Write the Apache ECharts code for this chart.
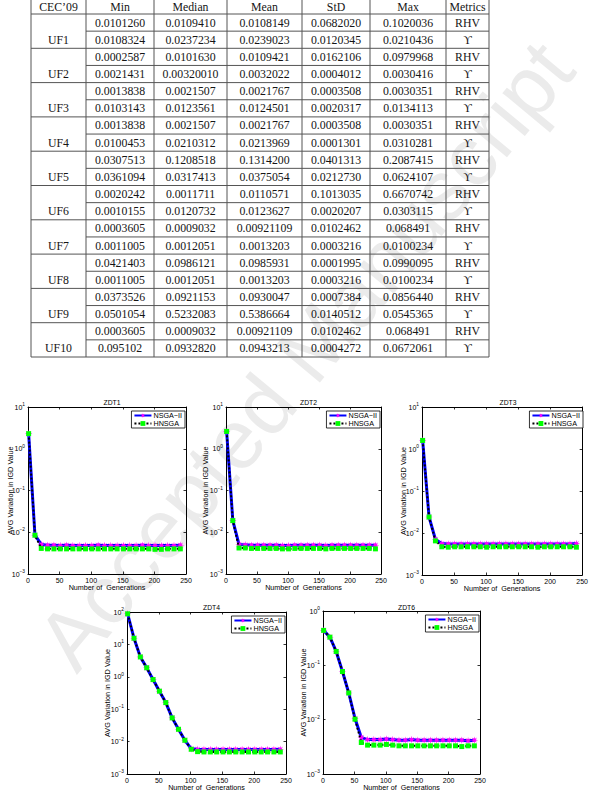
<!DOCTYPE html>
<html><head><meta charset="utf-8">
<script src="https://cdn.jsdelivr.net/npm/echarts@6/dist/echarts.min.js"></script>
<style>html,body{margin:0;padding:0;background:#fff;}#c{width:591px;height:792px;}</style>
</head><body><div id="c"></div>
<script>
// ---------- table data ----------
const colHeads = ['CEC\u201909', 'Min', 'Median', 'Mean', 'StD', 'Max', 'Metrics'];
const problems = ['UF1', 'UF2', 'UF3', 'UF4', 'UF5', 'UF6', 'UF7', 'UF8', 'UF9', 'UF10'];
const minCol = ['0.0101260','0.0108324','0.0002587','0.0021431','0.0013838','0.0103143','0.0013838','0.0100453','0.0307513','0.0361094','0.0020242','0.0010155','0.0003605','0.0011005','0.0421403','0.0011005','0.0373526','0.0501054','0.0003605','0.095102'];
const medianCol = ['0.0109410','0.0237234','0.0101630','0.00320010','0.0021507','0.0123561','0.0021507','0.0210312','0.1208518','0.0317413','0.0011711','0.0120732','0.0009032','0.0012051','0.0986121','0.0012051','0.0921153','0.5232083','0.0009032','0.0932820'];
const meanCol = ['0.0108149','0.0239023','0.0109421','0.0032022','0.0021767','0.0124501','0.0021767','0.0213969','0.1314200','0.0375054','0.0110571','0.0123627','0.00921109','0.0013203','0.0985931','0.0013203','0.0930047','0.5386664','0.00921109','0.0943213'];
const stdCol = ['0.0682020','0.0120345','0.0162106','0.0004012','0.0003508','0.0020317','0.0003508','0.0001301','0.0401313','0.0212730','0.1013035','0.0020207','0.0102462','0.0003216','0.0001995','0.0003216','0.0007384','0.0140512','0.0102462','0.0004272'];
const maxCol = ['0.1020036','0.0210436','0.0979968','0.0030416','0.0030351','0.0134113','0.0030351','0.0310281','0.2087415','0.0624107','0.6670742','0.0303115','0.068491','0.0100234','0.0990095','0.0100234','0.0856440','0.0545365','0.068491','0.0672061'];
const metricCol = ['RHV','\u03D2','RHV','\u03D2','RHV','\u03D2','RHV','\u03D2','RHV','\u03D2','RHV','\u03D2','RHV','\u03D2','RHV','\u03D2','RHV','\u03D2','RHV','\u03D2'];

// ---------- chart data ----------
const titles = ['ZDT1', 'ZDT2', 'ZDT3', 'ZDT4', 'ZDT6'];
const seriesNames = ['NSGA\u2212II', 'HNSGA'];
const xTicks = [0, 50, 100, 150, 200, 250];
const gens = [1,11,21,31,41,51,61,71,81,91,101,111,121,131,141,151,161,171,181,191,201,211,221,231,241];
const yLow = [0.001, 0.001, 0.001, 0.001, 0.001];
const yHigh = [10, 10, 10, 100, 1];

const nsga1 = [2.3,0.0085,0.0051,0.0049,0.0049,0.0048,0.0049,0.0048,0.0048,0.0048,0.0048,0.0049,0.0048,0.0048,0.0048,0.0048,0.0048,0.0048,0.0049,0.0048,0.0048,0.0048,0.0048,0.0048,0.0049];
const hnsga1 = [2.3,0.0085,0.0041,0.0040,0.0040,0.0040,0.0040,0.0040,0.0040,0.0040,0.0040,0.0040,0.0040,0.0040,0.0040,0.0040,0.0040,0.0040,0.0040,0.0040,0.0039,0.0039,0.0040,0.0040,0.0040];
const nsga2 = [2.6,0.019,0.0051,0.0050,0.0049,0.0049,0.0049,0.0049,0.0049,0.0048,0.0048,0.0049,0.0049,0.0049,0.0049,0.0049,0.0048,0.0049,0.0049,0.0049,0.0049,0.0049,0.0049,0.0049,0.0049];
const hnsga2 = [2.6,0.019,0.0042,0.0042,0.0041,0.0041,0.0041,0.0041,0.0041,0.0040,0.0040,0.0041,0.0041,0.0041,0.0041,0.0041,0.0040,0.0041,0.0041,0.0041,0.0041,0.0041,0.0041,0.0041,0.0040];
const nsga3 = [1.6,0.024,0.0070,0.0056,0.0055,0.0055,0.0055,0.0055,0.0055,0.0055,0.0055,0.0055,0.0055,0.0055,0.0055,0.0055,0.0055,0.0055,0.0055,0.0055,0.0055,0.0055,0.0055,0.0055,0.0056];
const hnsga3 = [1.6,0.024,0.0065,0.0047,0.0046,0.0047,0.0047,0.0047,0.0047,0.0047,0.0046,0.0047,0.0047,0.0047,0.0047,0.0047,0.0047,0.0047,0.0046,0.0047,0.0047,0.0047,0.0047,0.0047,0.0046];
const nsga4 = [88,15.5,4.1,1.9,0.82,0.36,0.16,0.054,0.024,0.011,0.0060,0.0058,0.0057,0.0057,0.0057,0.0057,0.0057,0.0057,0.0057,0.0057,0.0057,0.0057,0.0057,0.0057,0.0058];
const hnsga4 = [88,15.5,4.1,1.9,0.82,0.36,0.16,0.054,0.024,0.011,0.0058,0.0049,0.0048,0.0048,0.0048,0.0048,0.0048,0.0048,0.0048,0.0048,0.0048,0.0048,0.0048,0.0048,0.0048];
const nsga6 = [0.44,0.33,0.18,0.077,0.031,0.0105,0.0047,0.0043,0.0043,0.0043,0.0044,0.0043,0.0042,0.0042,0.0043,0.0042,0.0042,0.0042,0.0042,0.0042,0.0042,0.0042,0.0042,0.0041,0.0042];
const hnsga6 = [0.44,0.33,0.18,0.077,0.031,0.0102,0.0038,0.0034,0.0034,0.0034,0.0035,0.0034,0.0033,0.0033,0.0033,0.0033,0.0033,0.0033,0.0033,0.0033,0.0033,0.0033,0.0032,0.0033,0.0033];
const nsgaAll = [nsga1, nsga2, nsga3, nsga4, nsga6];
const hnsgaAll = [hnsga1, hnsga2, hnsga3, hnsga4, hnsga6];

// ---------- layout (positions / styles) ----------
const grids = [
  {left: 28, top: 407, width: 158, height: 167},
  {left: 226, top: 407, width: 155, height: 167},
  {left: 422, top: 407, width: 162, height: 168},
  {left: 127, top: 612, width: 159, height: 165},
  {left: 323, top: 611, width: 157, height: 166}
];
const yNameGap = [14, 17, 15, 16, 16];
const titleY = [394, 394, 394, 599, 599];
const FONT = '"Liberation Sans", Arial, Helvetica, sans-serif';
const SERIF = '"Liberation Serif", "Times New Roman", serif';
const starPath = 'path://M10,0L3.7,1.53L7.07,7.07L1.53,3.7L0,10L-1.53,3.7L-7.07,7.07L-3.7,1.53L-10,0L-3.7,-1.53L-7.07,-7.07L-1.53,-3.7L0,-10L1.53,-3.7L7.07,-7.07L3.7,-1.53Z';

// table geometry
const colEdges = [31, 86, 154, 227, 302, 370, 446, 489];
const headTop = -3, headBottom = 14, rowH = 17.15, headTextY = 6.8;

const els = [];
// watermark
els.push({type: 'text', x: 305, y: 355, rotation: 0.877, z: -10, silent: true,
  style: {text: 'Accepted Manuscript', font: '84px ' + FONT, fill: '#ebebeb',
    textAlign: 'center', textVerticalAlign: 'middle', align: 'center', verticalAlign: 'middle'}});

const lineStyle = {stroke: '#555', lineWidth: 1};
const tBottom = headBottom + 20 * rowH;
els.push({type: 'line', shape: {x1: colEdges[0], y1: headTop, x2: colEdges[7], y2: headTop}, style: lineStyle});
els.push({type: 'line', shape: {x1: colEdges[0], y1: headBottom, x2: colEdges[7], y2: headBottom}, style: lineStyle});
for (let r = 0; r < 20; r++) {
  const y = headBottom + (r + 1) * rowH;
  els.push({type: 'line', shape: {x1: (r % 2 === 1) ? colEdges[0] : colEdges[1], y1: y, x2: colEdges[7], y2: y}, style: lineStyle});
}
colEdges.forEach(function (x) {
  els.push({type: 'line', shape: {x1: x, y1: headTop, x2: x, y2: tBottom}, style: lineStyle});
});
function cellText(t, x, y) {
  return {type: 'text', x: x, y: y, style: {text: t, font: '11.8px ' + SERIF, fill: '#151515',
    textAlign: 'center', textVerticalAlign: 'middle', align: 'center', verticalAlign: 'middle'}};
}
const colMid = [];
for (let c = 0; c < 7; c++) colMid.push((colEdges[c] + colEdges[c + 1]) / 2);
colHeads.forEach(function (h, c) { els.push(cellText(h, colMid[c], headTextY)); });
problems.forEach(function (p, i) {
  els.push(cellText(p, colMid[0], headBottom + (2 * i + 1) * rowH + rowH / 2));
});
const dataCols = [minCol, medianCol, meanCol, stdCol, maxCol, metricCol];
dataCols.forEach(function (col, ci) {
  col.forEach(function (v, r) {
    els.push(cellText(v, colMid[ci + 1], headBottom + r * rowH + rowH / 2));
  });
});

// ---------- chart option ----------
function expLabel(v) {
  const e = Math.round(Math.log10(v));
  return '{b|10}{s|' + (e < 0 ? '\u2212' + (-e) : String(e)) + '}';
}
const option = {
  animation: false,
  backgroundColor: '#fff',
  textStyle: {fontFamily: FONT},
  graphic: {elements: els},
  title: [], grid: [], xAxis: [], yAxis: [], legend: [], series: []
};
grids.forEach(function (g, i) {
  option.grid.push({left: g.left, top: g.top, width: g.width, height: g.height, show: false, containLabel: false});
  option.title.push({text: titles[i], left: g.left + g.width / 2, top: titleY[i], textAlign: 'center',
    textStyle: {fontSize: 6.8, fontWeight: 'normal', color: '#000', fontFamily: FONT}});
  const axLine = {show: true, onZero: false, lineStyle: {color: '#000', width: 1}};
  const tick = {show: true, inside: true, length: 2.5, lineStyle: {color: '#000', width: 0.8}};
  option.xAxis.push({gridIndex: i, type: 'value', min: xTicks[0], max: xTicks[xTicks.length - 1], interval: xTicks[1] - xTicks[0],
    axisLine: axLine, axisTick: tick, splitLine: {show: false},
    axisLabel: {fontSize: 7, color: '#000', margin: 3, fontFamily: FONT},
    name: 'Number of  Generations', nameLocation: 'middle', nameGap: 10, nameMoveOverlap: false,
    nameTextStyle: {fontSize: 7.2, color: '#000', fontFamily: FONT}});
  option.xAxis.push({gridIndex: i, type: 'value', position: 'top', min: xTicks[0], max: xTicks[xTicks.length - 1], interval: xTicks[1] - xTicks[0],
    axisLine: axLine, axisTick: tick, splitLine: {show: false}, axisLabel: {show: false}});
  const decades = Math.round(Math.log10(yHigh[i] / yLow[i]));
  option.yAxis.push({gridIndex: i, type: 'log', logBase: 10, min: yLow[i], max: yHigh[i], splitNumber: decades,
    axisLine: axLine, axisTick: tick, splitLine: {show: false},
    axisLabel: {formatter: expLabel, margin: 3, color: '#000',
      rich: {b: {fontSize: 7, color: '#000', lineHeight: 10, fontFamily: FONT},
             s: {fontSize: 4.8, color: '#000', lineHeight: 5, verticalAlign: 'top', fontFamily: FONT}}},
    name: 'AVG Variation in IGD Value', nameLocation: 'middle', nameGap: yNameGap[i], nameMoveOverlap: false,
    nameTextStyle: {fontSize: 7.3, color: '#000', fontFamily: FONT}});
  option.yAxis.push({gridIndex: i, type: 'log', logBase: 10, min: yLow[i], max: yHigh[i], splitNumber: decades, position: 'right',
    axisLine: axLine, axisTick: tick, splitLine: {show: false}, axisLabel: {show: false}});
  option.legend.push({show: true, orient: 'vertical', right: 591 - (g.left + g.width) + 1, top: g.top + 4,
    data: seriesNames, itemWidth: 17, itemHeight: 6, itemGap: 1, padding: [1, 3, 1, 2],
    borderColor: '#000', borderWidth: 0.8, backgroundColor: '#fff', borderRadius: 0,
    textStyle: {fontSize: 7.2, color: '#000', fontFamily: FONT, padding: [0, 0, 0, -3]}});
  option.series.push({name: seriesNames[0], type: 'line', xAxisIndex: 2 * i, yAxisIndex: 2 * i,
    data: gens.map(function (x, k) { return [x, nsgaAll[i][k]]; }),
    showAllSymbol: true, symbol: starPath, symbolSize: 7.5, z: 3,
    lineStyle: {color: '#0000ff', width: 3}, itemStyle: {color: '#ff00ff'}});
  option.series.push({name: seriesNames[1], type: 'line', xAxisIndex: 2 * i, yAxisIndex: 2 * i,
    data: gens.map(function (x, k) { return [x, hnsgaAll[i][k]]; }),
    showAllSymbol: true, symbol: 'rect', symbolSize: 5, z: 4,
    lineStyle: {color: '#000', width: 2, type: 'dotted'}, itemStyle: {color: '#00ff00'}});
});
const chart = echarts.init(document.getElementById('c'), null, {renderer: 'svg'});
chart.setOption(option);
</script></body></html>
